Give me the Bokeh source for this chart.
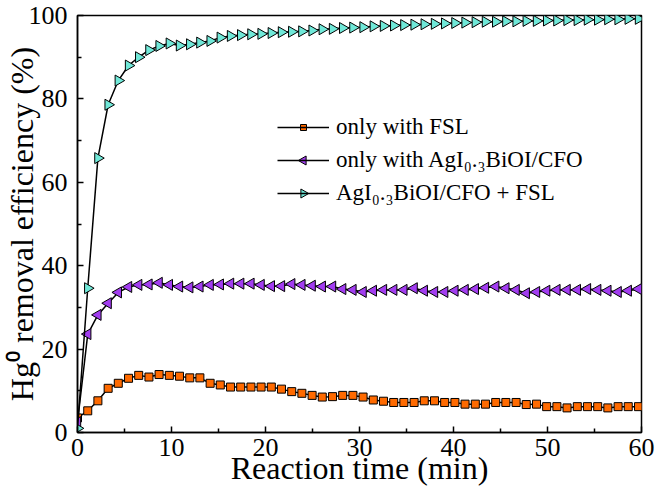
import numpy as np
from bokeh.plotting import figure
from bokeh.models import Legend, LegendItem, FixedTicker
from bokeh.embed import file_html
from bokeh.resources import INLINE

# ---- data ----
time_min = [0.0, 1.09, 2.17, 3.26, 4.34, 5.43, 6.51, 7.60, 8.68, 9.77,
            10.85, 11.94, 13.02, 14.11, 15.19, 16.28, 17.36, 18.45, 19.53, 20.62,
            21.70, 22.79, 23.87, 24.96, 26.04, 27.13, 28.21, 29.30, 30.38, 31.47,
            32.55, 33.64, 34.72, 35.81, 36.89, 37.98, 39.06, 40.15, 41.23, 42.32,
            43.40, 44.49, 45.57, 46.66, 47.74, 48.83, 49.91, 51.00, 52.08, 53.17,
            54.25, 55.34, 56.42, 57.51, 58.59, 59.68]

only_fsl = [3.5, 5.2, 7.6, 10.6, 11.8, 13.0, 13.7, 13.3, 13.9, 13.7,
            13.5, 13.1, 13.1, 11.8, 11.4, 10.9, 10.9, 10.9, 10.9, 10.9,
            10.4, 9.8, 9.4, 8.9, 8.5, 8.6, 8.9, 8.9, 8.5, 7.8,
            7.5, 7.2, 7.2, 7.2, 7.6, 7.6, 7.2, 7.2, 6.8, 6.8,
            6.8, 7.2, 7.2, 7.2, 6.7, 6.8, 6.2, 6.2, 5.9, 6.2,
            6.2, 6.2, 5.9, 6.2, 6.2, 6.2]

only_agi = [2.5, 23.6, 28.2, 31.0, 33.6, 34.9, 35.4, 35.5, 35.9, 35.4,
            35.0, 34.8, 35.0, 35.4, 35.5, 35.7, 35.7, 35.7, 35.4, 35.1,
            35.1, 35.6, 35.4, 35.2, 35.0, 35.0, 34.4, 34.2, 33.7, 34.0,
            34.2, 34.2, 34.2, 34.6, 34.0, 33.7, 33.7, 34.0, 34.2, 34.4,
            34.7, 35.0, 34.6, 34.2, 33.4, 33.7, 34.0, 34.2, 34.2, 34.2,
            34.4, 34.2, 34.0, 33.7, 34.0, 34.4]

agi_fsl = [1.0, 34.6, 65.8, 78.6, 84.4, 88.0, 90.0, 91.7, 92.7, 93.3,
           92.8, 93.1, 93.5, 93.9, 94.7, 95.1, 95.3, 95.5, 95.6, 95.8,
           96.0, 96.1, 96.2, 96.4, 96.7, 96.8, 97.0, 97.1, 97.2, 97.4,
           97.5, 97.6, 97.7, 97.8, 97.9, 98.0, 98.1, 98.2, 98.3, 98.4,
           98.5, 98.5, 98.6, 98.6, 98.7, 98.7, 98.8, 98.8, 98.9, 98.9,
           99.0, 99.0, 99.1, 99.1, 99.2, 99.2]

series_labels = ["only with FSL", "only with AgI\u2080.\u2083BiOI/CFO", "AgI\u2080.\u2083BiOI/CFO + FSL"]
x_ticks = [0, 10, 20, 30, 40, 50, 60]
x_minor = [5, 15, 25, 35, 45, 55]
y_ticks = [0, 20, 40, 60, 80, 100]
y_minor = [10, 30, 50, 70, 90]
x_title = "Reaction time (min)"
y_title = "Hg\u2070 removal efficiency (%)"

FONT = "Liberation Serif"
X0, X1, Y0, Y1 = 0, 60, 0, 100
W, H = 657, 500
BL, BR, BT, BB = 77, 16, 15, 68
FW, FH = W - BL - BR, H - BT - BB

p = figure(width=W, height=H, x_range=(X0, X1), y_range=(Y0, Y1),
           output_backend="svg", toolbar_location=None,
           min_border_left=BL, min_border_right=BR, min_border_top=BT, min_border_bottom=BB)
p.grid.visible = False
p.background_fill_color = "white"
p.border_fill_color = "white"
p.outline_line_color = "black"
p.outline_line_width = 1.5

for ax, maj, mnr, stand in ((p.xaxis[0], x_ticks, x_minor, 6), (p.yaxis[0], y_ticks, y_minor, 10)):
    ax.ticker = FixedTicker(ticks=maj, minor_ticks=mnr)
    ax.major_tick_in = 6
    ax.major_tick_out = 0
    ax.minor_tick_in = 4
    ax.minor_tick_out = 0
    ax.major_tick_line_width = 1.5
    ax.minor_tick_line_width = 1.5
    ax.axis_line_width = 1.5
    ax.axis_line_color = "black"
    ax.major_label_text_font = FONT
    ax.major_label_text_font_size = "26px"
    ax.major_label_text_color = "black"
    ax.major_label_standoff = stand
    ax.axis_label_text_font = FONT
    ax.axis_label_text_font_size = "32px"
    ax.axis_label_text_font_style = "normal"
    ax.axis_label_text_color = "black"

p.xaxis.axis_label = x_title
p.xaxis.axis_label_standoff = -9
p.yaxis.axis_label = y_title
p.yaxis.axis_label_standoff = -14

colors = ["#FF6A00", "#A23DF0", "#70E8D8"]
markers = [("square", 0.0, 8), ("triangle", np.pi / 2, 11), ("triangle", -np.pi / 2, 11)]
ys = [only_fsl, only_agi, agi_fsl]

# legend layout (screen units, relative to the frame)
LEG_X, LEG_Y, GW, GH, SP = 200, 225, 52, 28, 5
n_items = len(ys)
leg_top = LEG_Y + n_items * GH + (n_items - 1) * SP

items = []
for i, (y, col, (mk, ang, sz), lab) in enumerate(zip(ys, colors, markers, series_labels)):
    ln = p.line(time_min, y, line_color="black", line_width=1.5)
    p.scatter(time_min, y, marker=mk, angle=ang, size=sz, fill_color=col,
              line_color="black", line_width=1)
    items.append(LegendItem(label=lab, renderers=[ln]))
    # legend key marker (drawn above the legend line, at the key's centre)
    kx = X0 + (LEG_X + GW / 2) / FW * (X1 - X0)
    ky = Y0 + (leg_top - GH / 2 - i * (GH + SP)) / FH * (Y1 - Y0)
    p.scatter([kx], [ky], marker=mk, angle=ang, size=sz - 2, fill_color=col,
              line_color="black", line_width=1, level="overlay")

legend = Legend(items=items, location=(LEG_X, LEG_Y), orientation="vertical",
                glyph_width=GW, glyph_height=GH, label_height=GH, label_standoff=7,
                spacing=SP, padding=0, margin=0,
                label_text_font=FONT, label_text_font_size="23px",
                label_text_color="black",
                border_line_color=None, background_fill_alpha=0)
p.add_layout(legend, "center")

open("out.html", "w").write(file_html(p, INLINE))
